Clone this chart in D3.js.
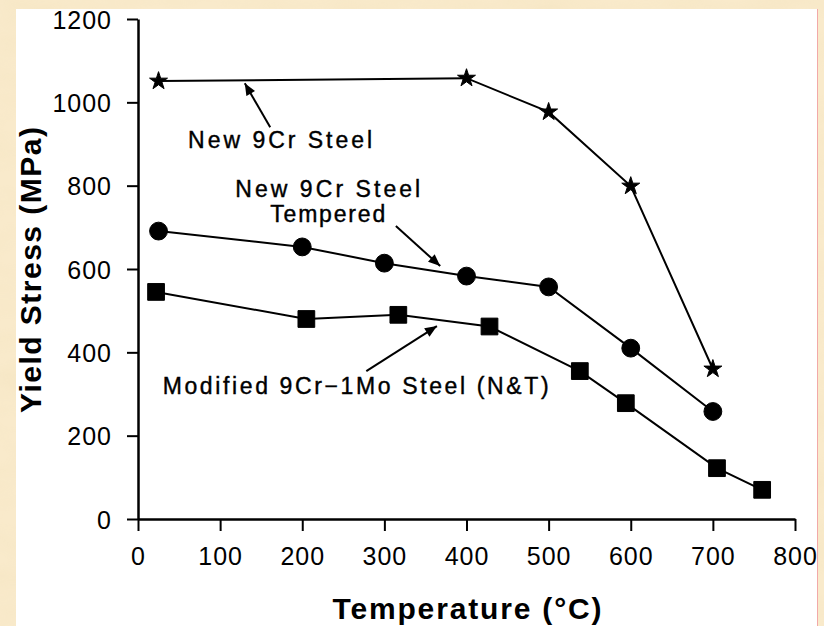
<!DOCTYPE html>
<html>
<head>
<meta charset="utf-8">
<script src="https://cdn.jsdelivr.net/npm/d3@7"></script>
<style>
  html, body { margin: 0; padding: 0; background: #f8e8c9; }
  svg { display: block; }
  text { font-family: "Liberation Sans", Arial, Helvetica, sans-serif; fill: #000; }
</style>
</head>
<body>
<svg id="chart"></svg>
<script>
/*
  yield stress vs temperature
  - three series, line + marker
  - arrows + labels instead of a legend
*/
(function() {
  // data
  const tempNew = [25, 400, 500, 600, 700];
  const stressNew = [1051, 1058, 977, 799, 360];

  const tempTempered = [25, 200, 300, 400, 500, 600, 700];
  const stressTempered = [691, 653, 614, 583, 557, 410, 258];

  const tempModified = [22, 205, 317, 428, 538, 594, 705, 760];
  const stressModified = [545, 480, 490, 462, 355, 278, 122, 70];

  const xTicks = [0, 100, 200, 300, 400, 500, 600, 700, 800];
  const yTicks = [0, 200, 400, 600, 800, 1000, 1200];

  // labels + arrows, in data units (temp, stress)
  const labels = [
    { lines: ['New 9Cr Steel'], t: 61, s: 890, anchor: 'start', len: [184] },
    { lines: ['New 9Cr Steel', 'Tempered'], t: 231, s: 773, anchor: 'middle', len: [185, 115] },
    { lines: ['Modified 9Cr\u22121Mo Steel (N&T)'], t: 30, s: 300, anchor: 'start', len: [386] }
  ];
  const arrows = [
    { from: [161, 940], to: [130, 1046] },
    { from: [314, 703], to: [368, 607] },
    { from: [278, 355], to: [364, 463] }
  ];

  const width = 824,
        height = 626;

  const xScale = d3.scaleLinear().domain([0, 800]).range([138, 795]);
  const yScale = d3.scaleLinear().domain([0, 1200]).range([519, 19]);

  const svg = d3.select('#chart')
    .attr('width', width)
    .attr('height', height);

  // parchment-ish background
  const defs = svg.append('defs');
  const filt = defs.append('filter').attr('id', 'paper')
    .attr('x', 0).attr('y', 0).attr('width', '100%').attr('height', '100%');
  filt.append('feTurbulence')
    .attr('type', 'fractalNoise')
    .attr('baseFrequency', '0.012 0.03')
    .attr('numOctaves', 3)
    .attr('seed', 4);
  filt.append('feColorMatrix')
    .attr('type', 'matrix')
    .attr('values', '0 0 0 0 0.85  0 0 0 0 0.72  0 0 0 0 0.45  0 0 0 -0.9 0.55');

  svg.append('rect').attr('width', width).attr('height', height).attr('fill', '#f9eacb');
  svg.append('rect').attr('width', width).attr('height', height)
    .attr('filter', 'url(#paper)').attr('opacity', 0.5);

  // white panel
  svg.append('rect')
    .attr('x', 16).attr('y', 9)
    .attr('width', 801).attr('height', height - 9)
    .attr('fill', '#fff');
  svg.append('line')
    .attr('x1', 817.5).attr('x2', 817.5)
    .attr('y1', 9).attr('y2', height)
    .attr('stroke', '#f2a9a9').attr('stroke-width', 1);

  // axes
  const xAxis = d3.axisBottom(xScale)
    .tickValues(xTicks)
    .tickFormat(d3.format('d'))
    .tickSize(12)
    .tickSizeOuter(0)
    .tickPadding(16);

  const yAxis = d3.axisLeft(yScale)
    .tickValues(yTicks)
    .tickFormat(d3.format('d'))
    .tickSize(11)
    .tickSizeOuter(0)
    .tickPadding(15);

  const gx = svg.append('g')
    .attr('transform', `translate(0, ${yScale(0)})`)
    .call(xAxis);
  const gy = svg.append('g')
    .attr('transform', `translate(${xScale(0)}, 0)`)
    .call(yAxis);

  [gx, gy].forEach(g => {
    g.select('.domain').attr('stroke', '#000').attr('stroke-width', 2.5);
    g.selectAll('.tick line').attr('stroke', '#000').attr('stroke-width', 2);
    g.selectAll('.tick text')
      .style('font-family', '"Liberation Sans", Arial, sans-serif')
      .style('font-size', '25px')
      .style('letter-spacing', '1px')
      .attr('fill', '#000');
  });
  gy.selectAll('.tick text').attr('dy', '0.36em');

  // axis titles
  svg.append('text')
    .attr('x', 467)
    .attr('y', 619)
    .attr('text-anchor', 'middle')
    .attr('textLength', 269)
    .attr('lengthAdjust', 'spacing')
    .style('font-size', '30px')
    .style('font-weight', 'bold')
    .text('Temperature (\u00B0C)');

  svg.append('text')
    .attr('transform', 'translate(41, 270) rotate(-90)')
    .attr('text-anchor', 'middle')
    .attr('textLength', 286)
    .attr('lengthAdjust', 'spacing')
    .style('font-size', '30px')
    .style('font-weight', 'bold')
    .text('Yield Stress (MPa)');

  // series
  const line = d3.line()
    .x(d => xScale(d[0]))
    .y(d => yScale(d[1]));

  const series = [
    { t: tempNew, s: stressNew, symbol: d3.symbolStar, size: 100 },
    { t: tempTempered, s: stressTempered, symbol: d3.symbolCircle, size: 250 },
    { t: tempModified, s: stressModified, symbol: d3.symbolSquare, size: 280 }
  ];

  series.forEach(ser => {
    const pts = ser.t.map((t, i) => [t, ser.s[i]]);

    svg.append('path')
      .datum(pts)
      .attr('d', line)
      .attr('fill', 'none')
      .attr('stroke', '#000')
      .attr('stroke-width', 2);

    svg.append('g')
      .selectAll('path')
        .data(pts)
      .enter().append('path')
        .attr('transform', d => `translate(${xScale(d[0])}, ${yScale(d[1])})`)
        .attr('d', d3.symbol().type(ser.symbol).size(ser.size))
        .attr('fill', '#000')
        .attr('stroke', '#000')
        .attr('stroke-width', 1);
  });

  // arrows
  defs.append('marker')
    .attr('id', 'head')
    .attr('viewBox', '0 0 12 10')
    .attr('refX', 12).attr('refY', 5)
    .attr('markerWidth', 13).attr('markerHeight', 10)
    .attr('markerUnits', 'userSpaceOnUse')
    .attr('orient', 'auto')
    .append('path')
      .attr('d', 'M0,0 L12,5 L0,10 Z')
      .attr('fill', '#000');

  svg.append('g')
    .selectAll('line')
      .data(arrows)
    .enter().append('line')
      .attr('x1', d => xScale(d.from[0]))
      .attr('y1', d => yScale(d.from[1]))
      .attr('x2', d => xScale(d.to[0]))
      .attr('y2', d => yScale(d.to[1]))
      .attr('stroke', '#000')
      .attr('stroke-width', 2)
      .attr('marker-end', 'url(#head)');

  // labels
  labels.forEach(lb => {
    lb.lines.forEach((txt, i) => {
      svg.append('text')
        .attr('x', xScale(lb.t))
        .attr('y', yScale(lb.s) + i * 25)
        .attr('text-anchor', lb.anchor)
        .attr('textLength', lb.len[i])
        .attr('lengthAdjust', 'spacing')
        .style('font-size', '23px')
        .style('stroke', '#000')
        .style('stroke-width', 0.4)
        .text(txt);
    });
  });
})();
</script>
</body>
</html>
